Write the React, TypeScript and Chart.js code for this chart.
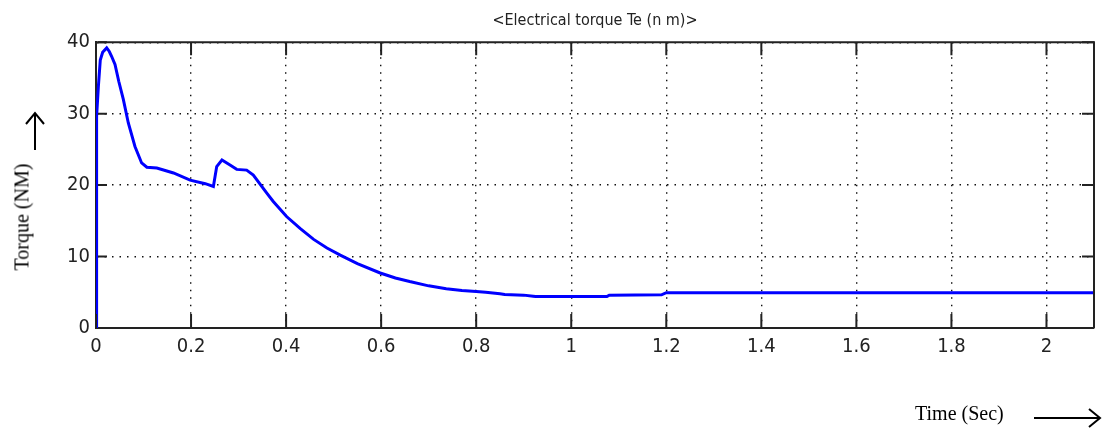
import React, { useEffect, useRef } from "react";
import { Chart, registerables } from "chart.js";

Chart.register(...registerables);

// ---- data ----
const timeSec = [
  0, 0.0005, 0.002, 0.005, 0.009, 0.014, 0.0225, 0.028, 0.033, 0.04, 0.048, 0.0575,
  0.068, 0.082, 0.096, 0.107, 0.128, 0.163, 0.198, 0.23, 0.247, 0.254, 0.265, 0.282,
  0.296, 0.317, 0.331, 0.359, 0.373, 0.401, 0.43, 0.458, 0.486, 0.514, 0.55, 0.598,
  0.63, 0.66, 0.7, 0.737, 0.77, 0.8, 0.82, 0.85, 0.86, 0.9, 0.92, 0.925, 1.075, 1.08,
  1.19, 1.2, 2.1,
];
const torqueNm = [
  0, 20, 29.6, 33.8, 37.5, 38.6, 39.2, 38.7, 38.0, 36.9, 34.5, 32,
  28.7, 25.4, 23.1, 22.5, 22.4, 21.7, 20.7, 20.2, 19.8, 22.6, 23.5, 22.8,
  22.2, 22.1, 21.4, 18.9, 17.7, 15.6, 13.9, 12.4, 11.2, 10.2, 9.0, 7.7,
  7.0, 6.5, 5.9, 5.5, 5.25, 5.1, 5.0, 4.8, 4.7, 4.6, 4.45, 4.4, 4.4, 4.6,
  4.65, 4.95, 4.95,
];
const xTicks = [0, 0.2, 0.4, 0.6, 0.8, 1, 1.2, 1.4, 1.6, 1.8, 2];
const yTicks = [0, 10, 20, 30, 40];

const chartTitle = "<Electrical torque Te (n m)>";
const yTitle = "Torque (NM)";
const xTitle = "Time (Sec)";

const NARROW =
  "'Liberation Sans Narrow', 'Arial Narrow', 'DejaVu Sans Condensed', sans-serif";
const SERIF = "'Liberation Serif', 'Times New Roman', serif";

const framePlugin = {
  id: "frame",
  afterDatasetsDraw(chart: any) {
    const { ctx, chartArea: a, scales } = chart;
    ctx.save();
    ctx.strokeStyle = "#222";
    ctx.lineWidth = 2;
    ctx.beginPath();
    ctx.moveTo(a.left, a.top);
    ctx.lineTo(a.right, a.top);
    ctx.lineTo(a.right, a.bottom);
    ctx.stroke();
    ctx.beginPath();
    for (const v of xTicks) {
      const px = scales.x.getPixelForValue(v);
      ctx.moveTo(px, a.bottom);
      ctx.lineTo(px, a.bottom - 14);
      ctx.moveTo(px, a.top);
      ctx.lineTo(px, a.top + 13);
    }
    for (const v of yTicks) {
      if (v === 0) continue;
      const py = scales.y.getPixelForValue(v);
      ctx.moveTo(a.left + 2, py);
      ctx.lineTo(a.left + 11, py);
      ctx.moveTo(a.right, py);
      ctx.lineTo(a.right - 12, py);
    }
    ctx.stroke();
    ctx.restore();
  },
};

export default function App() {
  const ref = useRef<HTMLCanvasElement | null>(null);

  useEffect(() => {
    if (!ref.current) return;
    const points = timeSec.map((t, i) => ({ x: t, y: torqueNm[i] }));
    const chart = new Chart(ref.current, {
      type: "line",
      data: {
        datasets: [
          {
            data: points,
            borderColor: "#0000ff",
            borderWidth: 3,
            pointRadius: 0,
            tension: 0,
            fill: false,
          },
        ],
      },
      options: {
        animation: false,
        responsive: false,
        layout: { padding: { left: 0, right: 8, top: 0, bottom: 0 } },
        plugins: {
          legend: { display: false },
          tooltip: { enabled: false },
          title: {
            display: true,
            fullSize: false,
            text: chartTitle,
            color: "#222",
            font: { family: NARROW, size: 16, weight: "normal" },
            padding: { top: 11, bottom: 12 },
          },
        },
        scales: {
          x: {
            type: "linear",
            min: 0,
            max: 2.1,
            afterFit: (s: any) => {
              s.height = 100;
            },
            ticks: {
              stepSize: 0.2,
              includeBounds: false,
              autoSkip: false,
              maxRotation: 0,
              padding: 7,
              color: "#222",
              font: { family: NARROW, size: 20 },
              callback: (v: any) => String(Number(Number(v).toFixed(1))),
            },
            grid: { color: "#111", lineWidth: 1.4, drawTicks: false },
            border: { color: "#222", width: 2, dash: [1.5, 6] },
          },
          y: {
            type: "linear",
            min: 0,
            max: 40,
            afterFit: (s: any) => {
              s.width = 96;
            },
            ticks: {
              stepSize: 10,
              padding: 6,
              color: "#222",
              font: { family: NARROW, size: 20 },
            },
            grid: { color: "#111", lineWidth: 1.4, drawTicks: false },
            border: { color: "#222", width: 2, dash: [1.5, 6] },
          },
        },
      },
      plugins: [framePlugin],
    });
    return () => chart.destroy();
  }, []);

  return (
    <div
      style={{
        position: "absolute",
        left: 0,
        top: 0,
        width: 1102,
        height: 428,
        background: "#fff",
        overflow: "hidden",
      }}
    >
      <canvas ref={ref} width={1102} height={428} style={{ display: "block" }} />
      <div
        style={{
          position: "absolute",
          left: 22,
          top: 217,
          transform: "translate(-50%, -50%) rotate(-90deg)",
          fontFamily: SERIF,
          fontSize: 20,
          whiteSpace: "nowrap",
          color: "#000",
        }}
      >
        {yTitle}
      </div>
      <div
        style={{
          position: "absolute",
          left: 915,
          top: 413,
          transform: "translateY(-50%)",
          fontFamily: SERIF,
          fontSize: 20,
          whiteSpace: "nowrap",
          color: "#000",
        }}
      >
        {xTitle}
      </div>
      <svg
        width={1102}
        height={428}
        style={{ position: "absolute", left: 0, top: 0, pointerEvents: "none" }}
      >
        <g stroke="#000" strokeWidth={2} fill="none">
          <line x1={35} y1={113} x2={35} y2={150} />
          <polyline points="26,124 35,113 44,124" />
          <line x1={1034} y1={418} x2={1100} y2={418} />
          <polyline points="1089,409 1100,418 1089,427" />
        </g>
      </svg>
    </div>
  );
}
